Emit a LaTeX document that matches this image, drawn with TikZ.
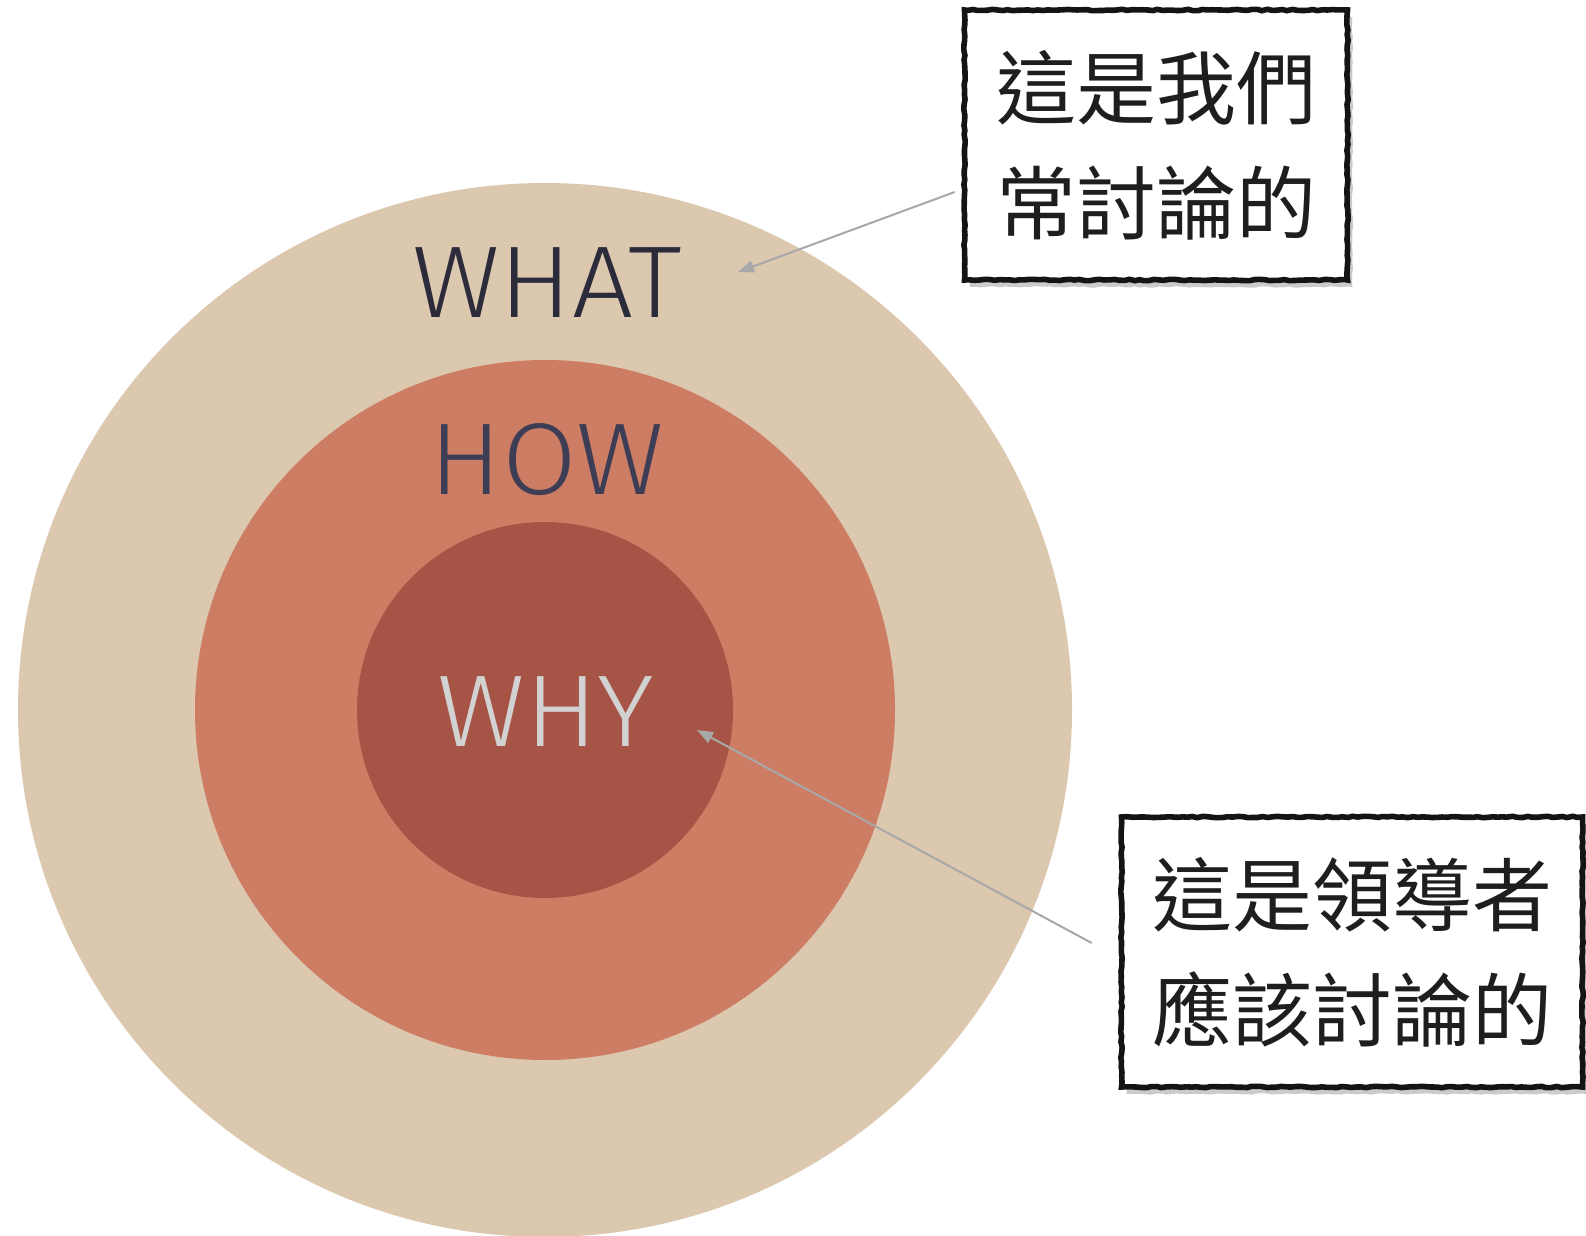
\documentclass[tikz,border=0pt]{standalone}
\usepackage{fontspec}
\setmainfont{Liberation Sans}
\newfontfamily\cjk{Noto Sans CJK TC}
\newfontfamily\latinf[FakeStretch=1.06]{Fira Sans Light}
\usetikzlibrary{arrows.meta,shadows,decorations.pathmorphing,calc}
\definecolor{outerc}{HTML}{DCC8AE}
\definecolor{midc}{HTML}{CD7D64}
\definecolor{innerc}{HTML}{A65445}
\definecolor{whatc}{HTML}{2B2B3B}
\definecolor{howc}{HTML}{3D3D55}
\definecolor{whyc}{HTML}{D2D2D2}
\definecolor{arrc}{HTML}{A8A8A8}
\definecolor{boxtext}{HTML}{1E1E1E}
\tikzset{
  ring/.style={draw=none},
  ringlabel/.style={anchor=base, inner sep=0pt, font=\latinf\fontsize{51pt}{51pt}\selectfont},
  notebox/.style={draw=black!92, line width=2.8pt, fill=white, inner sep=0pt,
    minimum height=135pt, align=center, text=boxtext,
    font=\cjk\fontsize{40pt}{57.5pt}\selectfont,
    drop shadow={shadow xshift=2.5pt, shadow yshift=-3.5pt, fill=black!40, opacity=0.5},
    decorate, decoration={random steps, segment length=2.5pt, amplitude=0.35pt}},
  pointer/.style={draw=arrc, line width=1pt, -{Triangle[length=8pt,width=6pt]}}
}
\begin{document}
\pgfmathsetseed{7}
\begin{tikzpicture}[x=0.5pt, y=-0.5pt]
\useasboundingbox (0,0) rectangle (1586,1236);
\fill[white] (0,0) rectangle (1586,1236);
% rings
\fill[outerc] (545,710) circle[radius=527];
\fill[midc] (545,710) circle[radius=350];
\fill[innerc] (545,710) circle[radius=188];
% ring labels
\node[ringlabel, text=whatc] (what) at (547,317) {WHAT};
\node[ringlabel, text=howc] (how) at (547,494) {HOW};
\node[ringlabel, text=whyc] (why) at (546,746) {WHY};
% note boxes
\node[notebox, minimum width=191.5pt] (box1) at (1156,145) {這是我們\\常討論的};
\node[notebox, minimum width=230.5pt] (box2) at (1352,952) {這是領導者\\應該討論的};
% arrow targets
\coordinate (whatpt) at (738,272);
\coordinate (whypt) at (697,730);
\draw[pointer] ($(box1.west)+(-7,47)$) -- (whatpt);
\draw[pointer] ($(box2.west)+(-27,-9)$) -- (whypt);
\end{tikzpicture}
\end{document}
